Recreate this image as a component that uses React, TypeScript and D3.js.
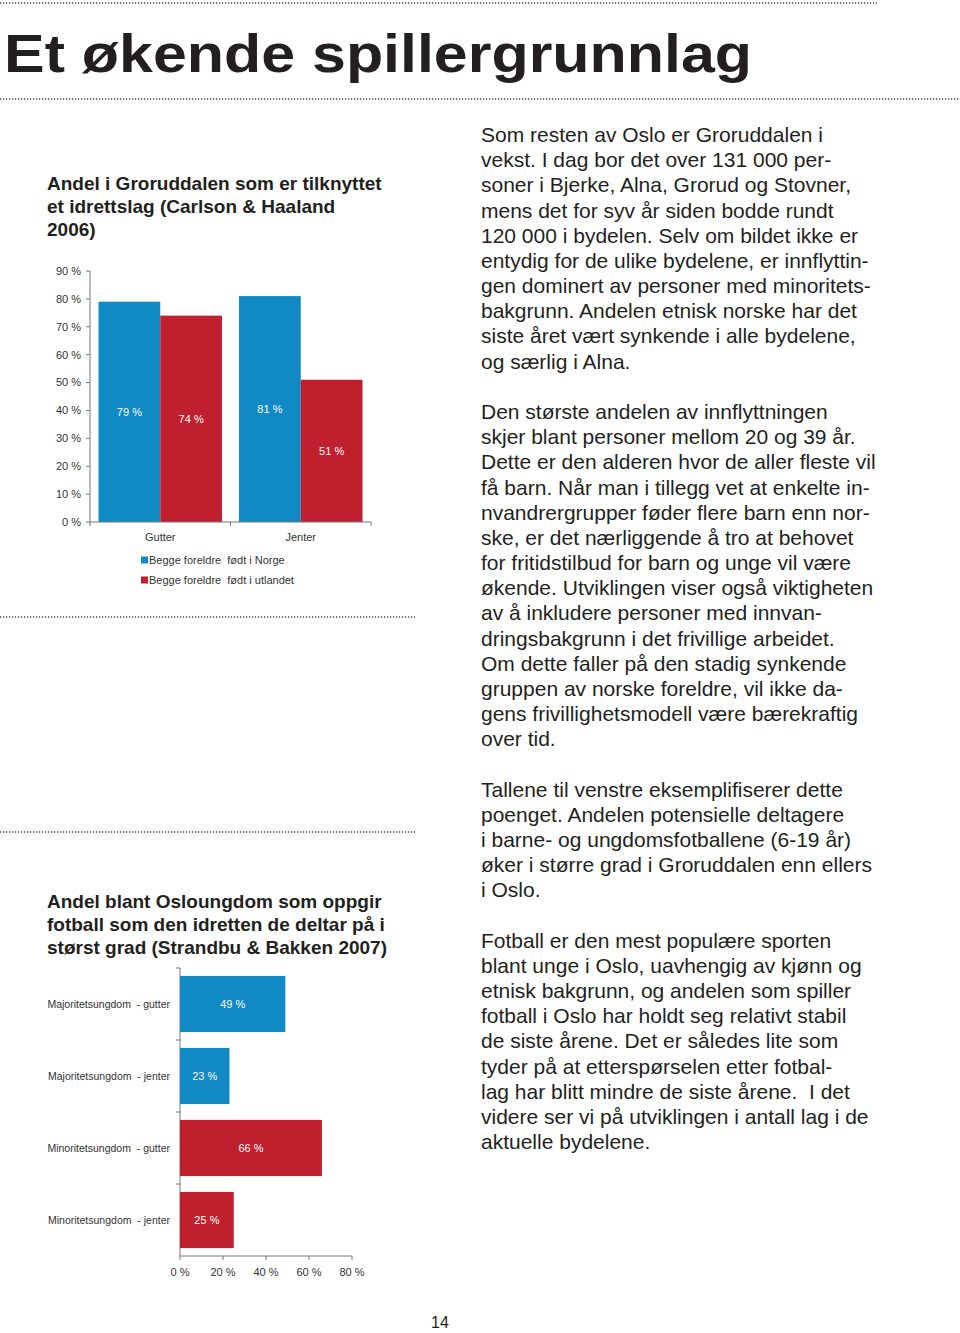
import React from "react";
import * as d3 from "d3";

// ---- Chart 1 data ----
const groups = ["Gutter", "Jenter"];
const series = ["Begge foreldre  født i Norge", "Begge foreldre  født i utlandet"];
const norgeValues = [79, 81];
const utlandetValues = [74, 51];
const yTicks = [0, 10, 20, 30, 40, 50, 60, 70, 80, 90];

// ---- Chart 2 data ----
const hCategories = [
  "Majoritetsungdom  - gutter",
  "Majoritetsungdom  - jenter",
  "Minoritetsungdom  - gutter",
  "Minoritetsungdom  - jenter",
];
const hValues = [49, 23, 66, 25];
const hGroup = [0, 0, 1, 1];
const xTicks = [0, 20, 40, 60, 80];

const BLUE = "#1089c4";
const RED = "#c0202e";
const colors = [BLUE, RED];

const para1 = [
  "Som resten av Oslo er Groruddalen i",
  "vekst. I dag bor det over 131 000 per-",
  "soner i Bjerke, Alna, Grorud og Stovner,",
  "mens det for syv år siden bodde rundt",
  "120 000 i bydelen. Selv om bildet ikke er",
  "entydig for de ulike bydelene, er innflyttin-",
  "gen dominert av personer med minoritets-",
  "bakgrunn. Andelen etnisk norske har det",
  "siste året vært synkende i alle bydelene,",
  "og særlig i Alna.",
];
const para2 = [
  "Den største andelen av innflyttningen",
  "skjer blant personer mellom 20 og 39 år.",
  "Dette er den alderen hvor de aller fleste vil",
  "få barn. Når man i tillegg vet at enkelte in-",
  "nvandrergrupper føder flere barn enn nor-",
  "ske, er det nærliggende å tro at behovet",
  "for fritidstilbud for barn og unge vil være",
  "økende. Utviklingen viser også viktigheten",
  "av å inkludere personer med innvan-",
  "dringsbakgrunn i det frivillige arbeidet.",
  "Om dette faller på den stadig synkende",
  "gruppen av norske foreldre, vil ikke da-",
  "gens frivillighetsmodell være bærekraftig",
  "over tid.",
];
const para3 = [
  "Tallene til venstre eksemplifiserer dette",
  "poenget. Andelen potensielle deltagere",
  "i barne- og ungdomsfotballene (6-19 år)",
  "øker i større grad i Groruddalen enn ellers",
  "i Oslo.",
];
const para4 = [
  "Fotball er den mest populære sporten",
  "blant unge i Oslo, uavhengig av kjønn og",
  "etnisk bakgrunn, og andelen som spiller",
  "fotball i Oslo har holdt seg relativt stabil",
  "de siste årene. Det er således lite som",
  "tyder på at etterspørselen etter fotbal-",
  "lag har blitt mindre de siste årene.  I det",
  "videre ser vi på utviklingen i antall lag i de",
  "aktuelle bydelene.",
];

const SANS = "'Liberation Sans', Arial, Helvetica, sans-serif";
const NARROW = "'Liberation Sans Narrow', 'Liberation Sans', Arial, sans-serif";

function DotLine({ x1, x2, y }: { x1: number; x2: number; y: number }) {
  return <line x1={x1} x2={x2} y1={y} y2={y} stroke="#444" strokeWidth={1.6} strokeDasharray="1.2,1.8" />;
}

export default function App() {
  // Chart 1 scales
  const y = d3.scaleLinear().domain([0, 90]).range([522, 271]);
  const x0 = d3.scaleBand().domain(groups).range([90, 371]).padding(0);
  const x1 = d3
    .scaleBand()
    .domain(series)
    .range([8.5, x0.bandwidth() - 8.5])
    .padding(0);
  const vals = [norgeValues, utlandetValues];

  // Chart 2 scales
  const hx = d3.scaleLinear().domain([0, 80]).range([180, 352]);
  const hy = d3
    .scaleBand()
    .domain(hCategories)
    .range([968, 1256])
    .paddingInner(0.22)
    .paddingOuter(0.11);

  const lineH = 25.18;
  const bodyY0 = 142;
  const paras: [string[], number][] = [
    [para1, 0],
    [para2, 11],
    [para3, 26],
    [para4, 32],
  ];

  return (
    <svg
      width={960}
      height={1333}
      style={{ position: "absolute", left: 0, top: 0, background: "#fff" }}
      fontFamily={SANS}
    >
      <rect x={0} y={0} width={960} height={1333} fill="#fff" />
      <DotLine x1={0} x2={877} y={3} />
      <text x={4} y={72} fontSize={53} fontWeight="bold" fill="#231f20" textLength={748} lengthAdjust="spacingAndGlyphs">
        Et økende spillergrunnlag
      </text>
      <DotLine x1={0} x2={960} y={99} />

      {/* Chart 1 title */}
      <g fontSize={19} fontWeight="bold" fill="#231f20">
        <text x={47} y={190}>Andel i Groruddalen som er tilknyttet</text>
        <text x={47} y={213}>et idrettslag (Carlson &amp; Haaland</text>
        <text x={47} y={236}>2006)</text>
      </g>

      {/* Chart 1 */}
      <g fontFamily={NARROW}>
        {yTicks.map((t) => (
          <g key={t}>
            <line x1={86} x2={90} y1={y(t)} y2={y(t)} stroke="#777" />
            <text x={81} y={y(t)} dy="0.35em" textAnchor="end" fontSize={11} fill="#333">
              {t} %
            </text>
          </g>
        ))}
        <line x1={90} x2={90} y1={y(90)} y2={y(0)} stroke="#777" />
        {groups.map((g, gi) => (
          <g key={g} transform={`translate(${x0(g)},0)`}>
            {series.map((s, si) => {
              const v = vals[si][gi];
              const bx = x1(s)!;
              return (
                <g key={s}>
                  <rect x={bx} y={y(v)} width={x1.bandwidth()} height={y(0) - y(v)} fill={colors[si]} />
                  <text
                    x={bx + x1.bandwidth() / 2}
                    y={(y(v) + y(0)) / 2}
                    dy="0.35em"
                    textAnchor="middle"
                    fontSize={11}
                    fill="#fff"
                  >
                    {v} %
                  </text>
                </g>
              );
            })}
            <text x={x0.bandwidth() / 2} y={537} dy="0.35em" textAnchor="middle" fontSize={11} fill="#333">
              {g}
            </text>
          </g>
        ))}
        <line x1={90} x2={371} y1={522} y2={522} stroke="#777" />
        {[90, x0("Jenter")!, 371].map((tx, i) => (
          <line key={i} x1={tx} x2={tx} y1={522} y2={526} stroke="#777" />
        ))}
        {series.map((s, si) => (
          <g key={s} transform={`translate(141,${560 + si * 20})`}>
            <rect x={0} y={-3.5} width={7} height={7} fill={colors[si]} />
            <text x={8} y={0} dy="0.35em" fontSize={11} fill="#333" style={{ whiteSpace: "pre" }}>
              {s}
            </text>
          </g>
        ))}
      </g>

      <DotLine x1={0} x2={415} y={617} />
      <DotLine x1={0} x2={415} y={832} />

      {/* Chart 2 title */}
      <g fontSize={19} fontWeight="bold" fill="#231f20">
        <text x={47} y={908}>Andel blant Osloungdom som oppgir</text>
        <text x={47} y={931}>fotball som den idretten de deltar på i</text>
        <text x={47} y={954}>størst grad (Strandbu &amp; Bakken 2007)</text>
      </g>

      {/* Chart 2 */}
      <g fontFamily={NARROW}>
        <line x1={180} x2={180} y1={968} y2={1256} stroke="#777" />
        {[968, 1040, 1112, 1184].map((ty, i) => (
          <line key={i} x1={176} x2={180} y1={ty} y2={ty} stroke="#777" />
        ))}
        {hCategories.map((c, i) => (
          <g key={c}>
            <rect x={hx(0)} y={hy(c)!} width={hx(hValues[i]) - hx(0)} height={hy.bandwidth()} fill={colors[hGroup[i]]} />
            <text
              x={(hx(0) + hx(hValues[i])) / 2}
              y={hy(c)! + hy.bandwidth() / 2}
              dy="0.35em"
              textAnchor="middle"
              fontSize={11}
              fill="#fff"
            >
              {hValues[i]} %
            </text>
            <text
              x={170}
              y={hy(c)! + hy.bandwidth() / 2}
              dy="0.35em"
              textAnchor="end"
              fontSize={10.5}
              fill="#333"
              style={{ whiteSpace: "pre" }}
            >
              {c}
            </text>
          </g>
        ))}
        <line x1={180} x2={352} y1={1256} y2={1256} stroke="#777" />
        {xTicks.map((t) => (
          <g key={t}>
            <line x1={hx(t)} x2={hx(t)} y1={1256} y2={1260} stroke="#777" />
            <text x={hx(t)} y={1272} dy="0.35em" textAnchor="middle" fontSize={11} fill="#333">
              {t} %
            </text>
          </g>
        ))}
      </g>

      {/* Body text */}
      <g fontSize={21} fill="#231f20">
        {paras.map(([lines, start], pi) =>
          lines.map((l, li) => (
            <text key={`${pi}-${li}`} x={481} y={bodyY0 + (start + li) * lineH} style={{ whiteSpace: "pre" }}>
              {l}
            </text>
          ))
        )}
      </g>

      <text x={440} y={1328} textAnchor="middle" fontSize={16} fill="#231f20">
        14
      </text>
    </svg>
  );
}
